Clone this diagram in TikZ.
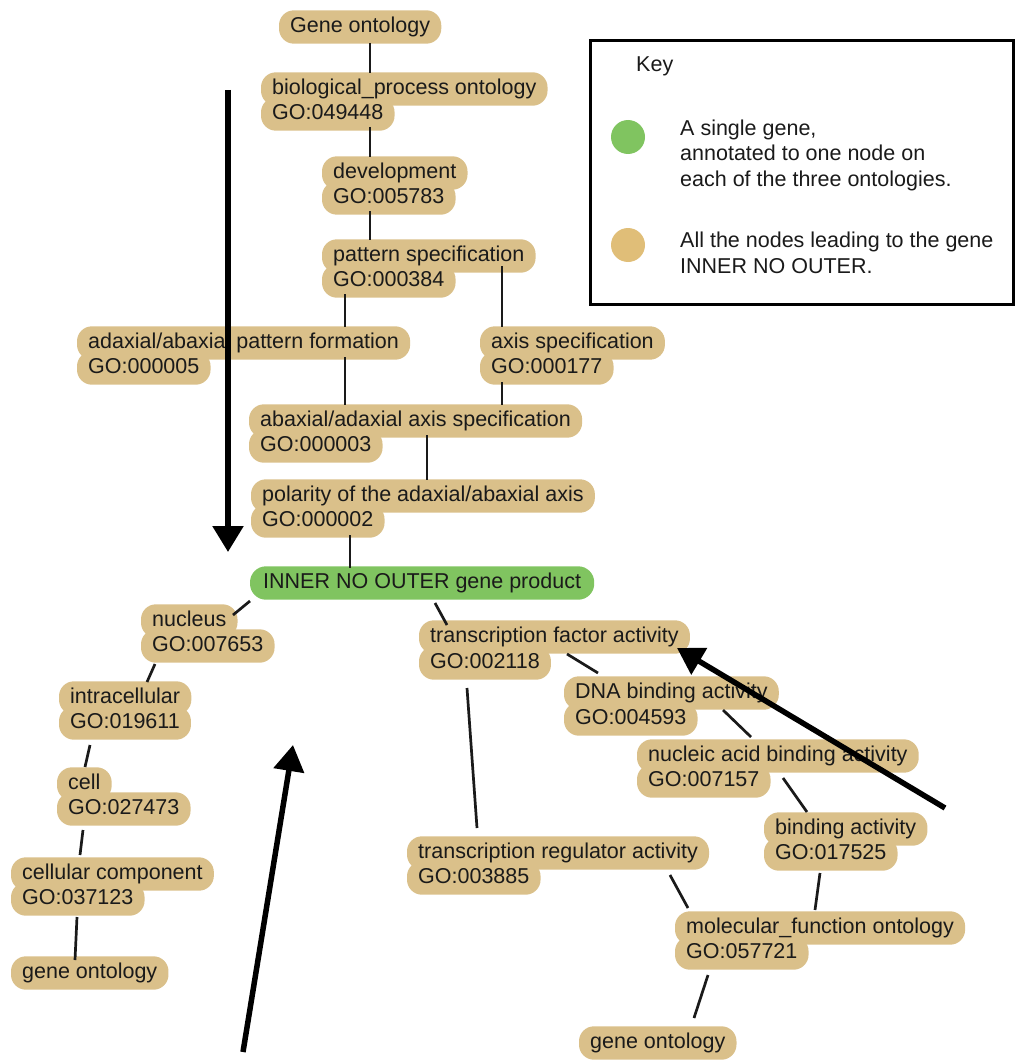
\documentclass[tikz,border=0pt]{standalone}
\usepackage{fontspec}
\setmainfont{Liberation Sans}
\usetikzlibrary{arrows.meta,calc,backgrounds}
\definecolor{tanfill}{HTML}{DAC08A}
\definecolor{genegreen}{HTML}{80C460}
\definecolor{keytan}{HTML}{E0BE78}
\definecolor{ink}{HTML}{1A1A1A}
\begin{document}
\begin{tikzpicture}[x=1pt,y=-1pt,
  term/.style={anchor=west, inner xsep=11pt, inner ysep=6.5pt, text height=15.5pt,
    text depth=4.5pt, text=ink, font=\fontsize{21.5}{25}\selectfont},
  keytext/.style={anchor=west, inner sep=0pt, text=ink, align=left,
    font=\fontsize{21.5}{25.5}\selectfont},
  link/.style={draw=ink, line width=2.7pt},
  pointer/.style={draw=black, line width=5.5pt, -{Triangle[length=26pt,width=30pt]}},
  blob/.style={fill=tanfill, rounded corners=15pt},
  dot/.style={circle, inner sep=0pt, minimum size=34pt}
]
\useasboundingbox (0,0) rectangle (1015,1062);

% ---- terms of the three ontologies ----
\node[term] (g)    at (279,27)  {Gene ontology};
\node[term] (bp1)  at (261,89)  {biological\_process ontology};
\node[term] (bp2)  at (261,114) {GO:049448};
\node[term] (dv1)  at (322,173) {development};
\node[term] (dv2)  at (322,198) {GO:005783};
\node[term] (ps1)  at (322,256) {pattern specification};
\node[term] (ps2)  at (322,281) {GO:000384};
\node[term] (apf1) at (77,343)  {adaxial/abaxial pattern formation};
\node[term] (apf2) at (77,368)  {GO:000005};
\node[term] (as1)  at (480,343) {axis specification};
\node[term] (as2)  at (480,368) {GO:000177};
\node[term] (aas1) at (249,421) {abaxial/adaxial axis specification};
\node[term] (aas2) at (249,446) {GO:000003};
\node[term] (pol1) at (251,496) {polarity of the adaxial/abaxial axis};
\node[term] (pol2) at (251,521) {GO:000002};
\node[term, inner xsep=13pt] (inner) at (250,583) {INNER NO OUTER gene product};
\node[term] (nuc1) at (141,621) {nucleus};
\node[term] (nuc2) at (141,646) {GO:007653};
\node[term] (tf1)  at (419,637) {transcription factor activity};
\node[term] (tf2)  at (419,663) {GO:002118};
\node[term] (ic1)  at (59,698)  {intracellular};
\node[term] (ic2)  at (59,723)  {GO:019611};
\node[term] (dna1) at (564,693) {DNA binding activity};
\node[term] (dna2) at (564,719) {GO:004593};
\node[term] (nab1) at (637,756) {nucleic acid binding activity};
\node[term] (nab2) at (637,781) {GO:007157};
\node[term] (cell1) at (57,784) {cell};
\node[term] (cell2) at (57,809) {GO:027473};
\node[term] (ba1)  at (764,829) {binding activity};
\node[term] (ba2)  at (764,854) {GO:017525};
\node[term] (tr1)  at (407,853) {transcription regulator activity};
\node[term] (tr2)  at (407,878) {GO:003885};
\node[term] (cc1)  at (11,874)  {cellular component};
\node[term] (cc2)  at (11,899)  {GO:037123};
\node[term] (mf1)  at (675,928) {molecular\_function ontology};
\node[term] (mf2)  at (675,953) {GO:057721};
\node[term] (gol)  at (11,973)  {gene ontology};
\node[term] (gob)  at (579,1043) {gene ontology};

% ---- highlighted backgrounds behind every text line ----
\begin{pgfonlayer}{background}
  \foreach \n in {g,bp1,bp2,dv1,dv2,ps1,ps2,apf1,apf2,as1,as2,aas1,aas2,pol1,pol2,
                  nuc1,nuc2,tf1,tf2,ic1,ic2,dna1,dna2,nab1,nab2,cell1,cell2,ba1,ba2,
                  tr1,tr2,cc1,cc2,mf1,mf2,gol,gob}
    \fill[blob] (\n.south west) rectangle (\n.north east);
  \fill[genegreen, rounded corners=16pt] (inner.south west) rectangle (inner.north east);
\end{pgfonlayer}

% ---- is-a links ----
\draw[link] ($(g.west)+(91,16)$)     -- ($(bp1.west)+(109,-16)$);
\draw[link] ($(bp2.west)+(109,13)$)  -- ($(dv1.west)+(48,-16)$);
\draw[link] ($(dv2.west)+(48,13)$)   -- ($(ps1.west)+(48,-16)$);
\draw[link] ($(ps2.west)+(23,13)$)   -- ($(apf1.west)+(268,-16)$);
\draw[link] ($(ps1.west)+(180,10)$)  -- ($(as1.west)+(22,-16)$);
\draw[link] ($(apf1.west)+(268,14)$) -- ($(aas1.west)+(96,-16)$);
\draw[link] ($(as2.west)+(22,14)$)   -- ($(aas1.west)+(253,-16)$);
\draw[link] ($(aas1.west)+(178,14)$) -- ($(pol1.west)+(176,-16)$);
\draw[link] ($(pol2.west)+(99,14)$)  -- ($(inner.west)+(100,-15)$);
\draw[link] ($(inner.west)+(0,18)$)  -- ($(nuc1.west)+(92,-6)$);
\draw[link] ($(inner.west)+(185,20)$) -- ($(tf1.west)+(28,-12)$);
\draw[link] ($(nuc2.west)+(14,18)$)  -- ($(ic1.west)+(88,-16)$);
\draw[link] ($(ic2.west)+(31,22)$)   -- ($(cell1.west)+(28,-17)$);
\draw[link] ($(cell2.west)+(26,21)$) -- ($(cc1.west)+(69,-19)$);
\draw[link] ($(cc2.west)+(66,18)$)   -- ($(gol.west)+(64,-13)$);
\draw[link] ($(tf2.west)+(48,25)$)   -- ($(tr1.west)+(70,-25)$);
\draw[link] ($(tf1.west)+(148,17)$)  -- ($(dna1.west)+(34,-20)$);
\draw[link] ($(dna1.west)+(159,17)$) -- ($(nab1.west)+(114,-19)$);
\draw[link] ($(nab1.west)+(146,22)$) -- ($(ba1.west)+(43,-17)$);
\draw[link] ($(ba2.west)+(56,19)$)   -- ($(mf1.west)+(140,-18)$);
\draw[link] ($(tr1.west)+(263,22)$)  -- ($(mf1.west)+(13,-20)$);
\draw[link] ($(mf2.west)+(33,22)$)   -- ($(gob.west)+(115,-25)$);

% ---- key ----
\draw[line width=3pt] (590,41) rectangle (1013,304);
\node[keytext] (keytitle) at (636,66) {Key};
\node[dot, fill=genegreen] (kgreen) at (628,137) {};
\node[keytext] (kgreentext) at (680,155) {A single gene,\\annotated to one node on\\each of the three ontologies.};
\node[dot, fill=keytan] (ktan) at (628,245) {};
\node[keytext] (ktantext) at (680,253) {All the nodes leading to the gene\\INNER NO OUTER.};

% ---- pointers ----
\coordinate (p1s) at (228,90);   \coordinate (p1e) at (228,552);
\coordinate (p2s) at (243,1052); \coordinate (p2e) at (293,745);
\coordinate (p3s) at (945,808);  \coordinate (p3e) at (677,648);
\draw[pointer] (p1s) -- (p1e);
\draw[pointer] (p2s) -- (p2e);
\draw[pointer] (p3s) -- (p3e);
\end{tikzpicture}
\end{document}
